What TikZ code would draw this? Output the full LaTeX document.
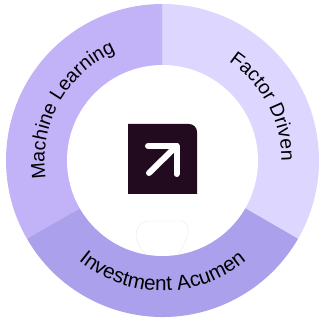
\documentclass[tikz,border=0pt]{standalone}
\usepackage{fontspec}
\setmainfont{Liberation Sans}
\usetikzlibrary{decorations.text}
\definecolor{segA}{HTML}{C2B2F8}
\definecolor{segB}{HTML}{DDD6FE}
\definecolor{segC}{HTML}{AAA0EC}
\definecolor{iconbg}{HTML}{220A1F}
\newcommand{\lblsize}{\fontsize{19.5}{19.5}\selectfont}
\newcommand{\lblwide}{\fontsize{20.6}{20.6}\selectfont}
\tikzset{
  arclabel/.style={decorate,decoration={text along path,text align=center,text={#1}}}
}
\begin{document}
\begin{tikzpicture}[x=1pt,y=1pt]
\useasboundingbox (0,0) rectangle (320,320);
\fill[white] (0,0) rectangle (320,320);
\begin{scope}[shift={(162.5,159.5)}]
  \fill[segA] (0,0) -- (90:156.5) arc[start angle=90,end angle=210,radius=156.5] -- cycle;
  \fill[segB] (0,0) -- (90:156.5) arc[start angle=90,end angle=-30,radius=156.5] -- cycle;
  \fill[segC] (0,0) -- (210:156.5) arc[start angle=210,end angle=330,radius=156.5] -- cycle;
  \fill[white] (0,0) circle[radius=95.5];
  \path[arclabel={|\lblsize|Machine Learning}] (211:118) arc[start angle=211,end angle=91,radius=118];
  \path[arclabel={|\lblsize|Factor Driven}] (88:119) arc[start angle=88,end angle=-32,radius=119];
  \path[arclabel={|\lblwide|Investment Acumen}] (210:130.5) arc[start angle=210,end angle=330,radius=130.5];
\end{scope}
% faint outline at bottom of the hub
\draw[black!8,line width=0.4pt] (146,65.5) .. controls (138,74) and (134,82) .. (137,90) .. controls (139,97) and (144,99) .. (150,99) -- (180,99) .. controls (187,99) and (189,92) .. (188,86) .. controls (187,80) and (182,72) .. (178,65.5);
% icon
\fill[iconbg] (128,126) -- (128,196) -- (189,196) arc[start angle=90,end angle=0,radius=8] -- (197,126) -- cycle;
\draw[white,line width=6pt,line cap=round,line join=round] (148,174) -- (176.5,174) -- (176.5,146);
\draw[white,line width=6pt,line cap=round] (176.5,174) -- (149,147);
\end{tikzpicture}
\end{document}
